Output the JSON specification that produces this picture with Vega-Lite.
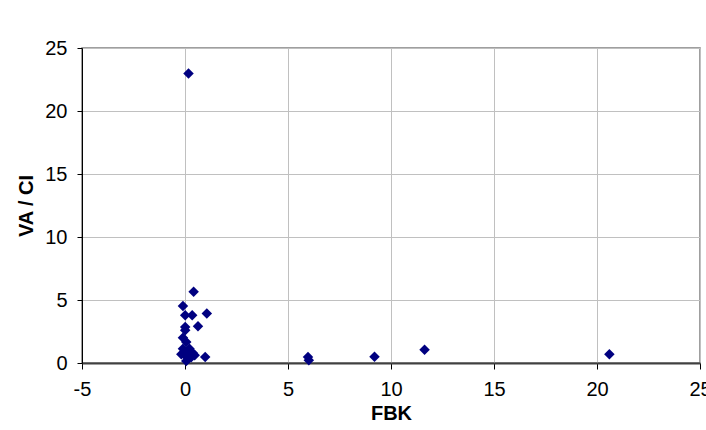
{
  "$schema": "https://vega.github.io/schema/vega-lite/v6.json",
  "width": 618,
  "height": 315,
  "autosize": {"type": "none"},
  "padding": {"left": 82, "top": 48, "right": 6, "bottom": 67},
  "background": "white",
  "config": {
    "view": {"stroke": "#808080", "strokeWidth": 1.5},
    "font": "Liberation Sans"
  },
  "data": {
    "values": [
      {"FBK": 0.17, "VACI": 22.98},
      {"FBK": 0.42, "VACI": 5.65},
      {"FBK": -0.1, "VACI": 4.52},
      {"FBK": 0.01, "VACI": 3.79},
      {"FBK": 0.35, "VACI": 3.79},
      {"FBK": 1.06, "VACI": 3.92},
      {"FBK": 0.63, "VACI": 2.91},
      {"FBK": 0.01, "VACI": 2.86},
      {"FBK": 0.01, "VACI": 2.6},
      {"FBK": -0.1, "VACI": 2.01},
      {"FBK": 0.06, "VACI": 1.67},
      {"FBK": -0.1, "VACI": 1.14},
      {"FBK": 0.22, "VACI": 1.14},
      {"FBK": 0.38, "VACI": 0.79},
      {"FBK": 0.0, "VACI": 0.61},
      {"FBK": 0.17, "VACI": 0.35},
      {"FBK": 0.06, "VACI": 0.16},
      {"FBK": 0.47, "VACI": 0.61},
      {"FBK": 0.98, "VACI": 0.48},
      {"FBK": -0.18, "VACI": 0.69},
      {"FBK": 0.1, "VACI": 0.9},
      {"FBK": 0.3, "VACI": 0.45},
      {"FBK": 5.97, "VACI": 0.48},
      {"FBK": 6.01, "VACI": 0.21},
      {"FBK": 9.2, "VACI": 0.5},
      {"FBK": 11.63, "VACI": 1.06},
      {"FBK": 20.6, "VACI": 0.7}
    ]
  },
  "mark": {"type": "point", "shape": "diamond", "filled": true, "color": "#000080", "opacity": 1, "size": 110},
  "encoding": {
    "x": {
      "field": "FBK",
      "type": "quantitative",
      "scale": {"domain": [-5, 25], "nice": false, "zero": false},
      "axis": {
        "title": "FBK",
        "values": [-5, 0, 5, 10, 15, 20, 25],
        "labelExpr": "'' + datum.value",
        "grid": true,
        "gridColor": "#c0c0c0",
        "gridWidth": 1,
        "domainColor": "#404040",
        "domainWidth": 2,
        "tickColor": "#000000",
        "tickSize": 6,
        "labelFontSize": 20,
        "labelColor": "#000000",
        "labelPadding": 10,
        "labelFlush": false,
        "labelFont": "Liberation Sans",
        "titleFont": "Liberation Sans",
        "titleFontSize": 20,
        "titleFontWeight": "bold",
        "titleColor": "#000000",
        "titlePadding": 4
      }
    },
    "y": {
      "field": "VACI",
      "type": "quantitative",
      "scale": {"domain": [0, 25], "nice": false},
      "axis": {
        "title": "VA / CI",
        "values": [0, 5, 10, 15, 20, 25],
        "grid": true,
        "gridColor": "#c0c0c0",
        "gridWidth": 1,
        "domainColor": "#000000",
        "domainWidth": 1,
        "tickColor": "#000000",
        "tickSize": 5,
        "labelFontSize": 20,
        "labelColor": "#000000",
        "labelPadding": 10,
        "labelFlush": false,
        "labelFont": "Liberation Sans",
        "titleFont": "Liberation Sans",
        "titleFontSize": 20,
        "titleFontWeight": "bold",
        "titleColor": "#000000",
        "titlePadding": 8
      }
    }
  }
}
